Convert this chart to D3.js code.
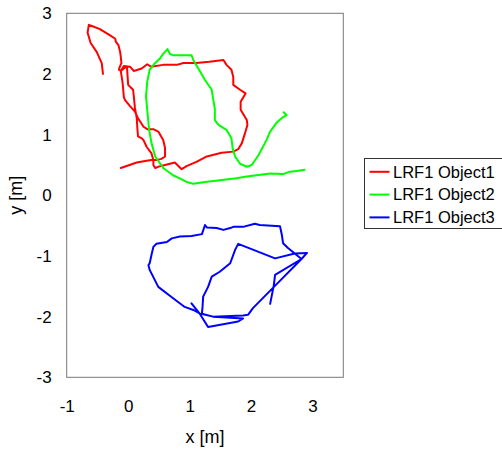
<!DOCTYPE html>
<html>
<head>
<meta charset="utf-8">
<script src="https://cdn.jsdelivr.net/npm/d3@7"></script>
<style>
  body { margin: 0; background: #fff; }
  text { font-family: "Liberation Sans", Arial, sans-serif; }
</style>
</head>
<body>
<div id="wrapper"></div>
<script>
// trajectories, [x, y] in metres
const object1 = [
  [-0.41, 2.00], [-0.43, 2.18], [-0.51, 2.36], [-0.61, 2.51], [-0.66, 2.68],
  [-0.64, 2.81], [-0.59, 2.79], [-0.46, 2.74], [-0.30, 2.64], [-0.21, 2.58],
  [-0.20, 2.53], [-0.16, 2.48], [-0.13, 2.36], [-0.12, 2.28], [-0.11, 2.18],
  [-0.14, 2.11], [-0.15, 2.07], [-0.12, 2.05], [-0.06, 2.10], [-0.02, 2.12],
  [0.00, 1.82], [0.06, 1.76], [0.08, 1.74], [0.09, 1.65], [0.11, 1.44],
  [0.14, 1.27], [0.15, 1.10], [0.16, 0.97], [0.22, 0.94], [0.25, 0.91],
  [0.30, 0.80], [0.38, 0.69], [0.41, 0.58], [0.41, 0.50], [0.44, 0.45],
  [0.52, 0.48], [0.76, 0.54], [0.87, 0.43], [0.95, 0.48], [1.11, 0.55],
  [1.28, 0.64], [1.52, 0.70], [1.71, 0.72], [1.79, 0.76], [1.85, 0.86],
  [1.90, 1.02], [1.94, 1.16], [1.93, 1.24], [1.83, 1.41], [1.83, 1.54],
  [1.91, 1.68], [1.82, 1.74], [1.71, 1.82], [1.71, 1.95], [1.68, 2.07],
  [1.60, 2.15], [1.55, 2.23], [1.32, 2.20], [1.11, 2.18], [0.90, 2.18],
  [0.79, 2.15], [0.57, 2.15], [0.37, 2.12], [0.31, 2.16], [0.22, 2.09],
  [0.09, 2.05], [0.03, 2.12], [-0.07, 2.13], [-0.12, 2.05], [-0.09, 1.85],
  [-0.07, 1.62], [-0.05, 1.57], [0.03, 1.47], [0.11, 1.38], [0.16, 1.27],
  [0.25, 1.13], [0.31, 1.09], [0.41, 1.09], [0.49, 1.05], [0.57, 0.91],
  [0.60, 0.78], [0.60, 0.64], [0.54, 0.60], [0.46, 0.58], [0.38, 0.58],
  [0.30, 0.57], [0.14, 0.54], [-0.12, 0.45]
]

const object2 = [
  [2.87, 0.42], [2.74, 0.40], [2.63, 0.39], [2.52, 0.35], [2.31, 0.36],
  [2.09, 0.33], [1.93, 0.31], [1.76, 0.28], [1.49, 0.25], [1.25, 0.22],
  [1.06, 0.19], [0.95, 0.22], [0.84, 0.28], [0.73, 0.33], [0.57, 0.45],
  [0.44, 0.64], [0.38, 0.86], [0.34, 1.08], [0.31, 1.41], [0.29, 1.63],
  [0.31, 1.87], [0.35, 2.07], [0.42, 2.16], [0.52, 2.26], [0.57, 2.33],
  [0.64, 2.41], [0.68, 2.33], [0.73, 2.31], [1.03, 2.31], [1.06, 2.23],
  [1.17, 2.04], [1.25, 1.90], [1.36, 1.74], [1.38, 1.60], [1.41, 1.43],
  [1.41, 1.24], [1.47, 1.16], [1.60, 1.08], [1.68, 0.94], [1.70, 0.77],
  [1.74, 0.64], [1.82, 0.52], [1.93, 0.47], [2.01, 0.50], [2.12, 0.66],
  [2.25, 0.91], [2.31, 1.05], [2.41, 1.19], [2.52, 1.29], [2.58, 1.32],
  [2.53, 1.37]
]

const object3 = [
  [1.03, -1.78], [1.17, -1.96], [1.30, -2.17], [1.79, -2.08], [1.87, -2.03],
  [1.38, -2.00], [1.17, -1.95], [1.06, -1.89], [0.92, -1.84], [0.71, -1.68],
  [0.49, -1.51], [0.35, -1.23], [0.33, -1.15], [0.35, -1.12], [0.38, -0.98],
  [0.41, -0.85], [0.46, -0.80], [0.63, -0.77], [0.71, -0.71], [0.84, -0.68],
  [1.03, -0.67], [1.20, -0.64], [1.25, -0.49], [1.28, -0.53], [1.44, -0.54],
  [1.55, -0.57], [1.66, -0.54], [1.71, -0.52], [1.87, -0.52], [2.06, -0.47],
  [2.14, -0.49], [2.47, -0.51], [2.50, -0.65], [2.52, -0.79], [2.60, -0.87],
  [2.71, -0.96], [2.82, -1.05], [2.42, -1.46], [2.03, -1.86], [1.95, -1.97],
  [1.87, -1.98], [1.38, -2.00], [1.20, -1.95], [1.21, -1.84], [1.22, -1.67],
  [1.30, -1.51], [1.36, -1.34], [1.49, -1.26], [1.66, -1.12], [1.74, -0.90],
  [1.79, -0.80], [2.39, -1.04], [2.71, -0.96], [2.91, -0.95], [2.82, -1.05],
  [2.39, -1.31], [2.37, -1.48], [2.31, -1.79]
]

const seriesNames = ["LRF1 Object1", "LRF1 Object2", "LRF1 Object3"]
const seriesColors = ["#ff0000", "#00ff00", "#0000ff"]
const xTicks = [-1, 0, 1, 2, 3]
const yTicks = [-3, -2, -1, 0, 1, 2, 3]

function drawChart() {
  const series = [object1, object2, object3]

  let dimensions = {
    width: 502,
    height: 450,
    margin: { top: 13.3, left: 66.7 },
    boundedWidth: 276.6,
    boundedHeight: 364,
  }

  const wrapper = d3.select("#wrapper")
    .append("svg")
    .attr("width", dimensions.width)
    .attr("height", dimensions.height)

  const bounds = wrapper.append("g")
    .attr("transform", `translate(${dimensions.margin.left},${dimensions.margin.top})`)

  const xScale = d3.scaleLinear()
    .domain([-1, 3.5])
    .range([0, dimensions.boundedWidth])

  const yScale = d3.scaleLinear()
    .domain([-3, 3])
    .range([dimensions.boundedHeight, 0])

  // lines
  const lineGenerator = d3.line()
    .x(d => xScale(d[0]))
    .y(d => yScale(d[1]))

  series.forEach((s, i) => {
    bounds.append("path")
      .attr("d", lineGenerator(s))
      .attr("fill", "none")
      .attr("stroke", seriesColors[i])
      .attr("stroke-width", 2)
      .attr("stroke-linejoin", "round")
      .attr("stroke-linecap", "round")
  })

  // axes (labels only, no tick marks), plain hyphen for minus
  const fmt = d => String(d)
  const xAxis = bounds.append("g")
    .attr("transform", `translate(0,${dimensions.boundedHeight})`)
    .call(d3.axisBottom(xScale).tickValues(xTicks).tickFormat(fmt).tickSize(0).tickPadding(23))
  const yAxis = bounds.append("g")
    .call(d3.axisLeft(yScale).tickValues(yTicks).tickFormat(fmt).tickSize(0).tickPadding(15))

  ;[xAxis, yAxis].forEach(ax => {
    ax.select(".domain").remove()
    ax.selectAll("text")
      .attr("fill", "#000")
      .style("font-size", "17px")
      .style("font-family", "'Liberation Sans', Arial, sans-serif")
  })

  // frame
  bounds.append("rect")
    .attr("width", dimensions.boundedWidth)
    .attr("height", dimensions.boundedHeight)
    .attr("fill", "none")
    .attr("stroke", "#777")
    .attr("stroke-width", 1)

  // axis titles
  wrapper.append("text")
    .attr("x", dimensions.margin.left + dimensions.boundedWidth / 2)
    .attr("y", 443)
    .attr("text-anchor", "middle")
    .style("font-size", "18px")
    .text("x [m]")

  wrapper.append("text")
    .attr("transform", `translate(22,${yScale(0) + dimensions.margin.top}) rotate(-90)`)
    .attr("text-anchor", "middle")
    .style("font-size", "18px")
    .text("y [m]")

  // legend
  const legend = wrapper.append("g")
    .attr("transform", "translate(364.5,158.5)")

  legend.append("rect")
    .attr("width", 140)
    .attr("height", 70)
    .attr("fill", "#fff")
    .attr("stroke", "#333")
    .attr("stroke-width", 1)

  seriesNames.forEach((name, i) => {
    const row = legend.append("g")
      .attr("transform", `translate(0,${13.3 + i * 22.8})`)
    row.append("line")
      .attr("x1", 5)
      .attr("x2", 25)
      .attr("stroke", seriesColors[i])
      .attr("stroke-width", 2)
    row.append("text")
      .attr("x", 28.5)
      .attr("dy", "0.35em")
      .style("font-size", "16.5px")
      .text(name)
  })
}
drawChart()
</script>
</body>
</html>
